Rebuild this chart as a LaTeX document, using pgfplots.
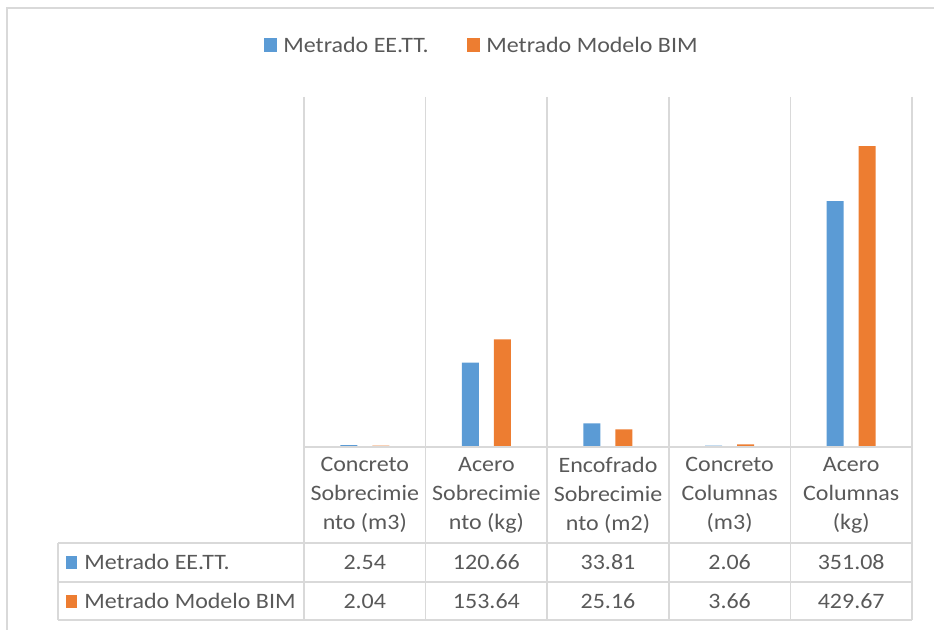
\documentclass[border=0pt]{standalone}
\usepackage{pgfplots}
\pgfplotsset{compat=1.18}
\usepackage{pgfplotstable}
\usepackage{fontspec}
\setmainfont{Carlito}[FakeStretch=1.09]
\definecolor{cblue}{HTML}{5B9BD5}
\definecolor{corange}{HTML}{ED7D31}
\definecolor{gridc}{HTML}{D9D9D9}
\definecolor{txt}{HTML}{595959}
\pgfplotstableread{
x a b
0 2.54 2.04
1 120.66 153.64
2 33.81 25.16
3 2.06 3.66
4 351.08 429.67
}\datatable
\begin{document}
\begin{tikzpicture}[x=0.5pt,y=-0.5pt, font=\fontsize{11}{14.5}\selectfont, text=txt]
\useasboundingbox (0,0) rectangle (934,630);
% outer chart border
\draw[gridc, line width=1pt] (7,630) -- (7,8) -- (934,8);
% vertical grid / table lines
\foreach \k in {0,...,5} {
  \draw[gridc, line width=0.8pt] ({304+121.6*\k},97) -- ({304+121.6*\k},620);
}
\foreach \yy in {543,582,620} {
  \draw[gridc, line width=0.8pt] (58,\yy) -- (912,\yy);
}
\draw[gridc, line width=0.8pt] (58,543) -- (58,620);
\begin{axis}[at={(152pt,-223.5pt)}, anchor=south west,
  width=304pt, height=175pt, scale only axis,
  xmin=-0.5, xmax=4.5, ymin=0, ymax=500,
  hide axis, ybar, bar width=8.5pt]
\addplot[fill=cblue, draw=none, bar shift=-8pt] table[x=x,y=a]{\datatable};
\addplot[fill=corange, draw=none, bar shift=8pt] table[x=x,y=b]{\datatable};
\end{axis}
\draw[gridc, line width=1.2pt] (304,447) -- (912,447);
% legend
\fill[cblue] (264,38) rectangle (277,52);
\node[anchor=west, inner sep=0pt] at (283,45) {Metrado EE.TT.};
\fill[corange] (467,38) rectangle (480,52);
\node[anchor=west, inner sep=0pt] at (486,45) {Metrado Modelo BIM};
% category labels
\node[align=center] at ({364.8+121.6*0},495) {Concreto\\Sobrecimie\\nto (m3)};
\node[align=center] at ({364.8+121.6*1},495) {Acero\\Sobrecimie\\nto (kg)};
\node[align=center] at ({364.8+121.6*2},495) {Encofrado\\Sobrecimie\\nto (m2)};
\node[align=center] at ({364.8+121.6*3},495) {Concreto\\Columnas\\(m3)};
\node[align=center] at ({364.8+121.6*4},495) {Acero\\Columnas\\(kg)};
% data table rows
\fill[cblue] (66,556) rectangle (77,569);
\node[anchor=west, inner sep=0pt] at (84,562) {Metrado EE.TT.};
\fill[corange] (66,595) rectangle (77,608);
\node[anchor=west, inner sep=0pt] at (84,601) {Metrado Modelo BIM};
\foreach \v [count=\i from 0] in {2.54,120.66,33.81,2.06,351.08} {
  \node at ({364.8+121.6*\i},562) {\v};
}
\foreach \v [count=\i from 0] in {2.04,153.64,25.16,3.66,429.67} {
  \node at ({364.8+121.6*\i},601) {\v};
}
\end{tikzpicture}
\end{document}
